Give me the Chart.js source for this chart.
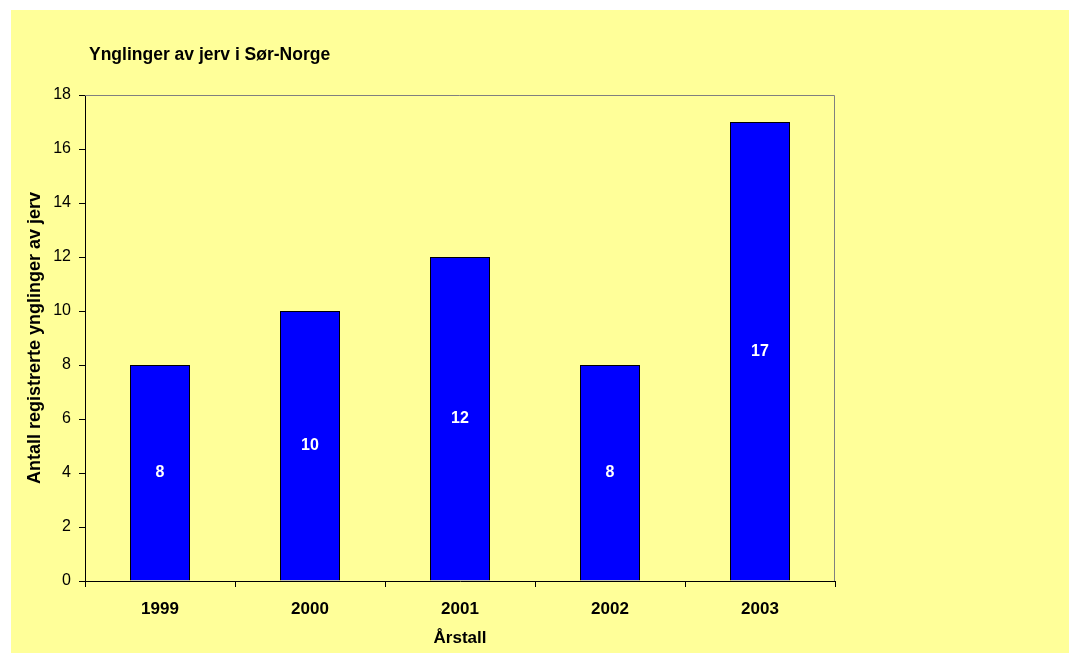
<!DOCTYPE html>
<html>
<head>
<meta charset="utf-8">
<script src="https://cdn.jsdelivr.net/npm/chart.js@4.4.0/dist/chart.umd.min.js"></script>
<style>
  html, body { margin: 0; padding: 0; background: #ffffff; }
  canvas { display: block; }
</style>
</head>
<body>
<canvas id="c" width="1071" height="653"></canvas>
<script>
const categories = ['1999', '2000', '2001', '2002', '2003'];
const values = [8, 10, 12, 8, 17];
const yTicks = [0, 2, 4, 6, 8, 10, 12, 14, 16, 18];
const titleText = 'Ynglinger av jerv i Sør-Norge';
const xTitle = 'Årstall';
const yTitle = 'Antall registrerte ynglinger av jerv';

const FONT = '"Liberation Sans", Arial, sans-serif';

const decor = {
  id: 'decor',
  beforeDraw(chart) {
    const ctx = chart.ctx;
    ctx.save();
    ctx.fillStyle = '#FFFF99';
    ctx.fillRect(11, 10, chart.width - 13, chart.height - 10);
    ctx.restore();
  },
  afterDatasetsDraw(chart) {
    const ctx = chart.ctx;
    const a = chart.chartArea;
    ctx.save();
    // plot border top & right (gray)
    ctx.strokeStyle = '#808080';
    ctx.lineWidth = 1;
    ctx.beginPath();
    ctx.moveTo(a.left, a.top + 0.5);
    ctx.lineTo(a.right - 0.5, a.top + 0.5);
    ctx.lineTo(a.right - 0.5, a.bottom);
    ctx.stroke();
    // data labels
    const meta = chart.getDatasetMeta(0);
    ctx.fillStyle = '#ffffff';
    ctx.font = 'bold 16px ' + FONT;
    ctx.textAlign = 'center';
    ctx.textBaseline = 'middle';
    meta.data.forEach((bar, i) => {
      ctx.fillText(String(values[i]), bar.x, (bar.y + bar.base) / 2);
    });
    // titles
    ctx.fillStyle = '#000000';
    ctx.font = 'bold 17.5px ' + FONT;
    ctx.textAlign = 'left';
    ctx.textBaseline = 'alphabetic';
    ctx.fillText(titleText, 89, 60);
    ctx.font = 'bold 17px ' + FONT;
    ctx.textAlign = 'center';
    ctx.fillText(xTitle, (a.left + a.right) / 2, 643);
    ctx.font = 'bold 18px ' + FONT;
    ctx.translate(40, (a.top + a.bottom) / 2);
    ctx.rotate(-Math.PI / 2);
    ctx.fillText(yTitle, 0, 0);
    ctx.restore();
  }
};

new Chart(document.getElementById('c'), {
  type: 'bar',
  data: {
    labels: categories,
    datasets: [{
      data: values,
      backgroundColor: '#0000FF',
      borderColor: '#000000',
      borderWidth: 1,
      categoryPercentage: 1.0,
      barPercentage: 0.4
    }]
  },
  options: {
    responsive: false,
    animation: false,
    devicePixelRatio: 1,
    layout: { padding: { left: 0, top: 95, right: 236, bottom: 0 } },
    plugins: {
      legend: { display: false },
      tooltip: { enabled: false },
      title: { display: false }
    },
    scales: {
      x: {
        grid: { offset: true, drawOnChartArea: false, drawTicks: true, tickLength: 6, color: '#000000' },
        border: { display: true, color: '#000000', width: 1 },
        ticks: { color: '#000000', font: { family: FONT, size: 17, weight: 'bold' }, padding: 12 },
        afterFit(scale) { scale.height = 72; }
      },
      y: {
        min: 0,
        max: 18,
        afterBuildTicks(scale) { scale.ticks = yTicks.map(v => ({ value: v })); },
        grid: { drawOnChartArea: false, drawTicks: true, tickLength: 6, color: '#000000' },
        border: { display: true, color: '#000000', width: 1 },
        ticks: { color: '#000000', font: { family: FONT, size: 16 }, padding: 8 },
        afterFit(scale) { scale.width = 85; }
      }
    }
  },
  plugins: [decor]
});
</script>
</body>
</html>
